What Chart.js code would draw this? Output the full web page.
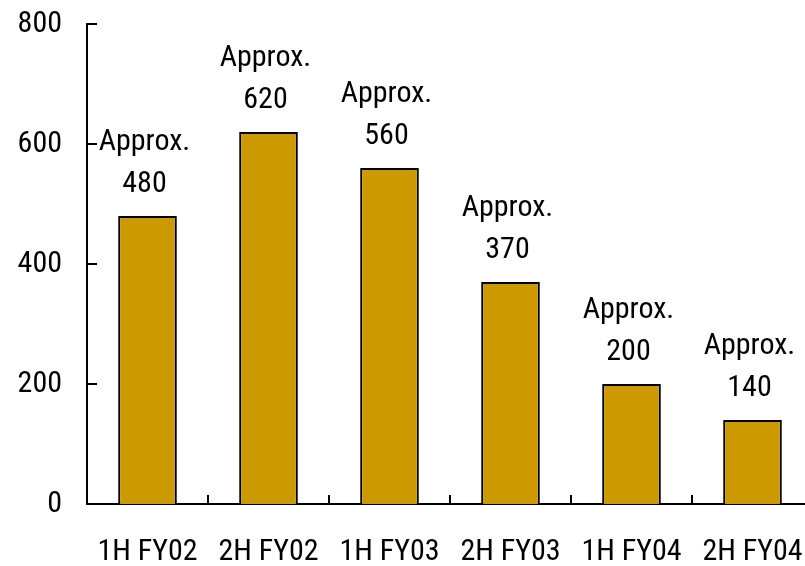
<!DOCTYPE html>
<html>
<head>
<meta charset="utf-8">
<script src="https://cdn.jsdelivr.net/npm/chart.js@4/dist/chart.umd.min.js"></script>
<style>
  html, body { margin: 0; padding: 0; background: #fff; overflow: hidden; }
  canvas { display: block; }
</style>
</head>
<body>
<canvas id="c" width="815" height="566"></canvas>
<script>
// Half-year periods and approximate unit counts
const periods = ['1H FY02', '2H FY02', '1H FY03', '2H FY03', '1H FY04', '2H FY04'];
const units = [480, 620, 560, 370, 200, 140];
const yTickValues = [0, 200, 400, 600, 800];
const valuePrefix = 'Approx.';

const FONT = "'Roboto Condensed', 'Liberation Sans Narrow', 'DejaVu Sans Condensed', sans-serif";
const BAR_COLOR = '#CC9900';

// Tick marks drawn inward: left axis ticks point right, bottom ticks point up between categories
const innerTicks = {
  id: 'innerTicks',
  afterDraw(chart) {
    const { ctx, scales: { x, y } } = chart;
    ctx.save();
    ctx.strokeStyle = '#000';
    ctx.lineWidth = 2;
    ctx.beginPath();
    const left = y.right;
    yTickValues.forEach(v => {
      const py = Math.round(y.getPixelForValue(v));
      ctx.moveTo(left, py);
      ctx.lineTo(left + 10, py);
    });
    const base = x.top;
    for (let i = 0; i < periods.length - 1; i++) {
      const px = Math.round((x.getPixelForValue(i) + x.getPixelForValue(i + 1)) / 2);
      ctx.moveTo(px, base);
      ctx.lineTo(px, base - 9);
    }
    ctx.stroke();
    ctx.restore();
  }
};

// Two-line value labels above each bar
const valueLabels = {
  id: 'valueLabels',
  afterDatasetsDraw(chart) {
    const { ctx } = chart;
    const meta = chart.getDatasetMeta(0);
    ctx.save();
    ctx.fillStyle = '#000';
    ctx.font = '30px ' + FONT;
    ctx.textAlign = 'center';
    ctx.textBaseline = 'alphabetic';
    meta.data.forEach((bar, i) => {
      const baseY = bar.y - 24;
      ctx.fillText(String(units[i]), bar.x - 3, baseY);
      ctx.fillText(valuePrefix, bar.x - 3, baseY - 42);
    });
    ctx.restore();
  }
};

new Chart(document.getElementById('c'), {
  type: 'bar',
  data: {
    labels: periods,
    datasets: [{
      data: units,
      backgroundColor: BAR_COLOR,
      borderColor: '#000',
      borderWidth: 2,
      borderSkipped: 'bottom',
      categoryPercentage: 1,
      barPercentage: 0.485
    }]
  },
  options: {
    responsive: false,
    animation: false,
    events: [],
    layout: { padding: { top: 24, right: 2, bottom: 0, left: 0 } },
    plugins: { legend: { display: false }, tooltip: { enabled: false } },
    scales: {
      x: {
        offset: true,
        grid: { display: false, drawTicks: false },
        border: { display: true, color: '#000', width: 2 },
        ticks: {
          color: '#000',
          font: { family: FONT, size: 30 },
          padding: 30,
          maxRotation: 0,
          autoSkip: false
        },
        afterFit(scale) {
          scale.height = 62;
          scale.paddingLeft = 0;
          scale.paddingRight = 0;
        }
      },
      y: {
        min: 0,
        max: 800,
        afterBuildTicks(scale) {
          scale.ticks = yTickValues.map(v => ({ value: v }));
        },
        grid: { display: false, drawTicks: false },
        border: { display: true, color: '#000', width: 2 },
        ticks: {
          color: '#000',
          font: { family: FONT, size: 30 },
          padding: 25
        },
        afterFit(scale) {
          scale.width = 87;
          scale.paddingTop = 0;
          scale.paddingBottom = 0;
        }
      }
    }
  },
  plugins: [innerTicks, valueLabels]
});
</script>
</body>
</html>
